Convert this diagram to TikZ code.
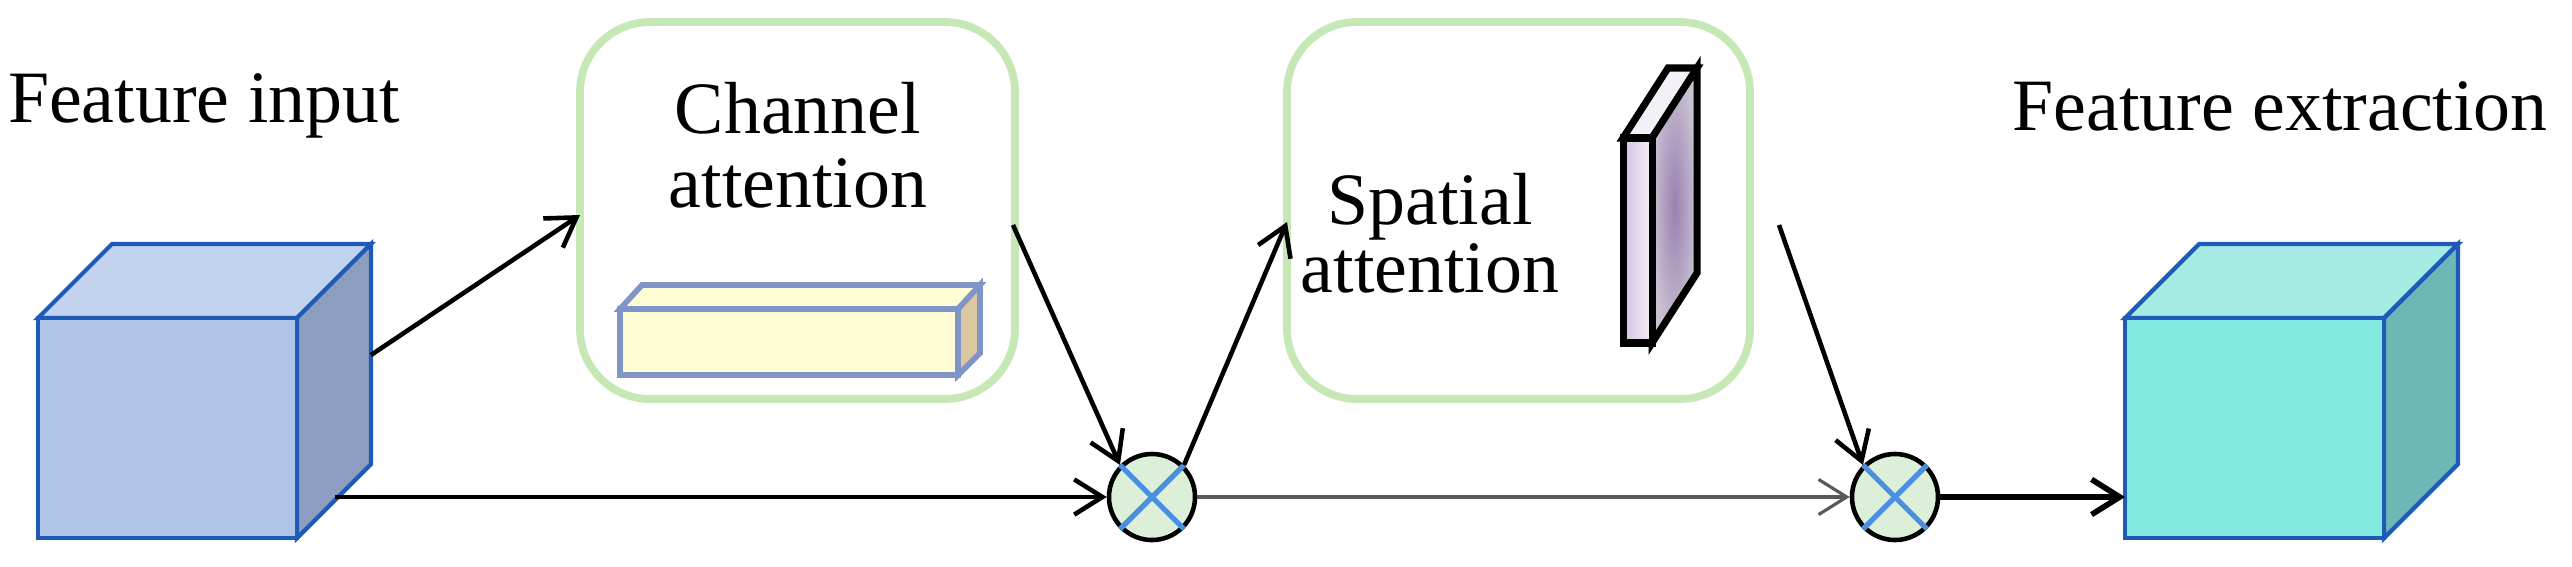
\documentclass[tikz,border=0pt]{standalone}
\usepackage{fontspec}
\setmainfont{Liberation Serif}
\usetikzlibrary{arrows.meta}
\definecolor{bfront}{HTML}{B0C4E8}\definecolor{btop}{HTML}{C2D3EF}\definecolor{bside}{HTML}{8D9EC0}
\definecolor{tfront}{HTML}{82E8E0}\definecolor{ttop}{HTML}{A6EAE4}\definecolor{tside}{HTML}{6CB8B4}
\definecolor{edgeb}{HTML}{1E5BB8}\definecolor{gbox}{HTML}{C5E8B5}
\definecolor{cfill}{HTML}{DCEFD8}\definecolor{xcol}{HTML}{4A8FE0}
\definecolor{yel}{HTML}{FFFDD5}\definecolor{yside}{HTML}{DCC8A0}\definecolor{yedge}{HTML}{7F95C8}
\definecolor{slabA}{HTML}{D4C2E4}\definecolor{slabB}{HTML}{F4F0F8}
\definecolor{slabIn}{HTML}{9A80B2}\definecolor{slabOut}{HTML}{C9C1D2}
\begin{document}
\begin{tikzpicture}[x=0.01cm,y=-0.01cm,
  lbl/.style={font=\fontsize{21}{21}\selectfont,align=center},
  gb/.style={draw=gbox,line width=2.2pt,rounded corners=0.7cm},
  mul/.style={circle,draw=black,line width=1.3pt,fill=cfill,minimum size=0.86cm,inner sep=0pt},
  arr/.style={-{Straight Barb[length=8pt,width=10pt]},line width=1.3pt}]
\useasboundingbox (0,0) rectangle (2572,566);
% left cube
\begin{scope}[draw=edgeb,line width=1.2pt]
\filldraw[fill=btop] (38,318)--(112,244)--(371,244)--(297,318)--cycle;
\filldraw[fill=bside] (297,318)--(371,244)--(371,464)--(297,538)--cycle;
\filldraw[fill=bfront] (38,318) rectangle (297,538);
\end{scope}
\coordinate (cinA) at (371,355);
\coordinate (cinB) at (335,497);
% right cube
\begin{scope}[draw=edgeb,line width=1.2pt]
\filldraw[fill=ttop] (2125,318)--(2199,244)--(2458,244)--(2384,318)--cycle;
\filldraw[fill=tside] (2384,318)--(2458,244)--(2458,464)--(2384,538)--cycle;
\filldraw[fill=tfront] (2125,318) rectangle (2384,538);
\end{scope}
\coordinate (cout) at (2125,497);
% labels
\node[lbl] (t1) at (204,106) {Feature input};
\node[lbl] (t2) at (2280,106) {Feature extraction};
% channel box
\draw[gb] (580,22) rectangle (1015,399);
\node[lbl] (ca) at (798,145) {Channel\\attention};
\begin{scope}[draw=yedge,line width=1.6pt]
\filldraw[fill=yel] (620,309)--(642,285)--(980,285)--(958,309)--cycle;
\filldraw[fill=yside] (958,309)--(980,285)--(980,353)--(958,375)--cycle;
\filldraw[fill=yel] (620,309) rectangle (958,375);
\end{scope}
\coordinate (cbA) at (580,215);
\coordinate (cbB) at (1013,225);
% spatial box
\draw[gb] (1287,22) rectangle (1750,399);
\node[lbl,font=\fontsize{21}{17}\selectfont] (sa) at (1430,233) {Spatial\\attention};
\begin{scope}[draw=black,line width=2pt]
\filldraw[fill=slabB] (1623,138)--(1668,68)--(1697,68)--(1652,138)--cycle;
\shade[inner color=slabIn,outer color=slabOut] (1652,138)--(1697,68)--(1697,273)--(1652,343)--cycle;
\draw (1652,138)--(1697,68)--(1697,273)--(1652,343)--cycle;
\shade[left color=slabA,right color=slabB] (1623,138) rectangle (1652,343);
\draw (1623,138) rectangle (1652,343);
\end{scope}
\coordinate (sbA) at (1287,222);
\coordinate (sbB) at (1779,225);
% multipliers
\node[mul] (m1) at (1152,497) {};
\node[mul] (m2) at (1895,497) {};
\foreach \m in {m1,m2}{
  \draw[xcol,line width=1.5pt] (\m.north west)--(\m.south east) (\m.north east)--(\m.south west);}
% connectors
\draw[arr] (cinA) -- (cbA);
\draw[arr] (cinB) -- (m1.west);
\draw[arr] (cbB) -- (m1.north west);
\draw[arr] (m1.north east) -- (sbA);
\draw[arr,draw=black!65,line width=0.9pt] (m1.east) -- (m2.west);
\draw[arr] (sbB) -- (m2.north west);
\draw[arr,line width=1.6pt] (m2.east) -- (cout);
\end{tikzpicture}
\end{document}
